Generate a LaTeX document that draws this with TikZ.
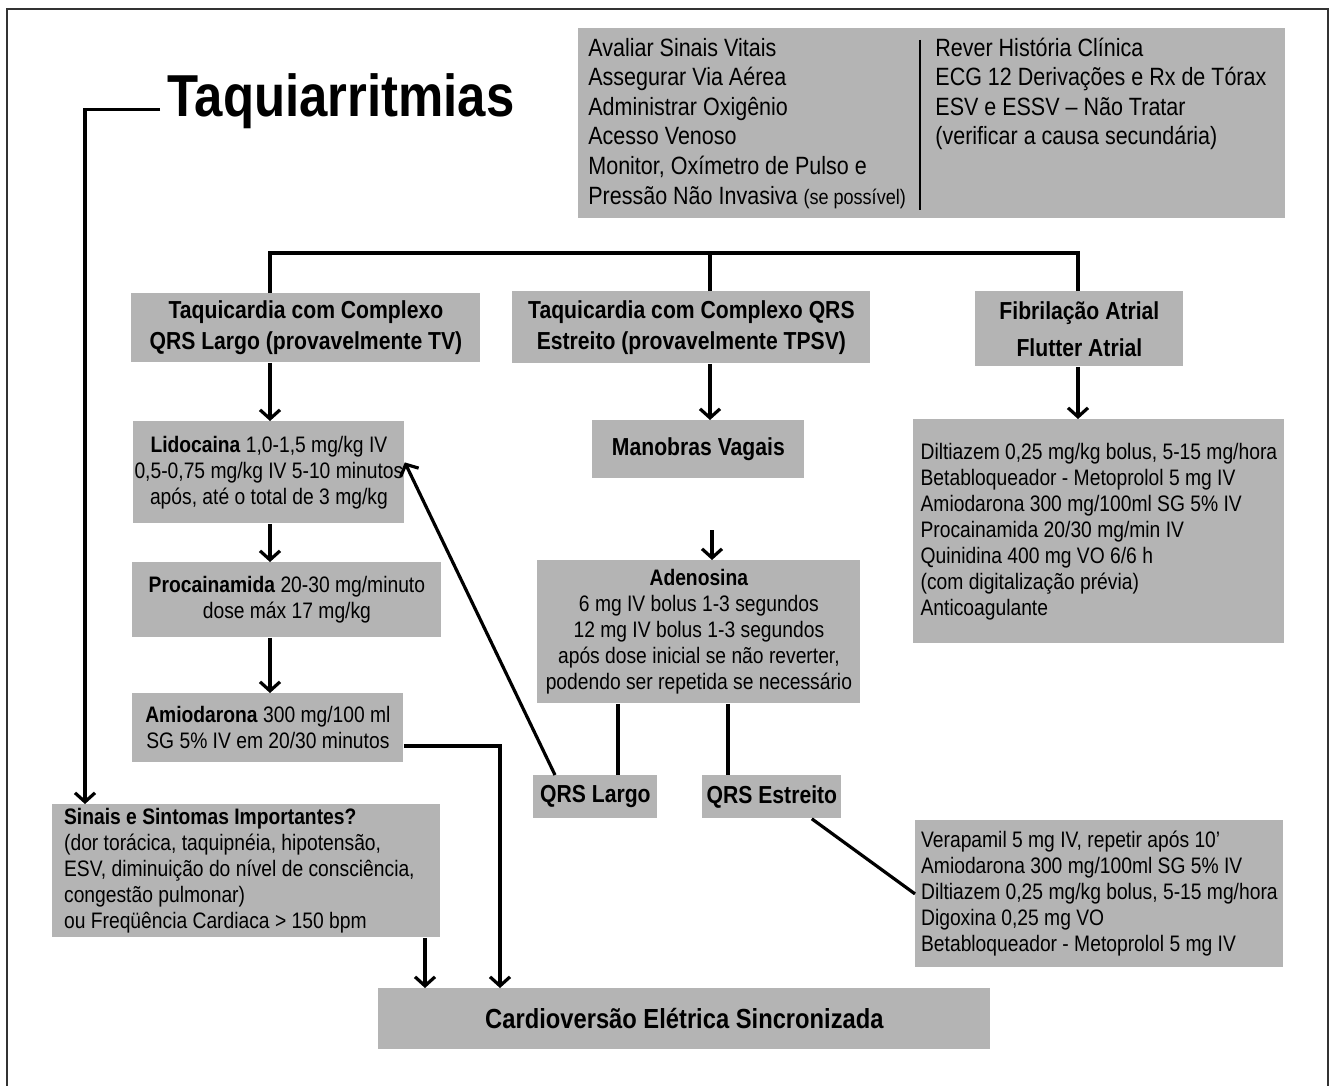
\documentclass[tikz,border=0pt]{standalone}
\usepackage{fontspec}
\setmainfont{Liberation Sans}[FakeStretch=0.86]
\usepackage{tikz}
\usetikzlibrary{arrows.meta,positioning,calc}
\definecolor{boxgrey}{RGB}{180,180,180}
\newcommand{\txtcorpo}{\fontsize{11.2}{13}\selectfont}
\newcommand{\txtinfo}{\fontsize{12.5}{14.8}\selectfont}
\newcommand{\txtcab}{\fontsize{12.3}{15.5}\selectfont\bfseries}

\begin{document}
\begin{tikzpicture}[x=0.5pt,y=-0.5pt,
    box/.style={fill=boxgrey,inner sep=0pt,anchor=north west,align=center},
    conn/.style={line width=1.6pt},
    arr/.style={conn,-{Straight Barb[length=4.5pt,width=10pt]}}]
  \useasboundingbox (0,0) rectangle (1334,1086);
  \draw[line width=1pt,black!80] (7,1090) -- (7,9) -- (1328,9) -- (1328,1090);
  % eixos
  \coordinate (axA) at (270,0);
  \coordinate (axB) at (710,0);
  \coordinate (axC) at (1078,0);
  \coordinate (axD) at (500,0);
  \coordinate (axE) at (425,0);
  \coordinate (axF) at (85,0);
  \coordinate (axL) at (618,0);
  \coordinate (axQ) at (728,0);
  \coordinate (adenoin) at (712,530);
  % titulo e avaliacao
  \node[anchor=base west,inner xsep=3.5pt,inner ysep=0pt,font=\fontsize{29.6}{34}\selectfont\bfseries] (titulo) at (160,117) {Taquiarritmias};
  \node[box,minimum width=353.5pt,minimum height=95pt] (info) at (578,28) {};
  \node[anchor=north west,inner sep=0pt,align=left,font=\txtinfo] (infoA) at (588,34) {\vphantom{Í}Avaliar Sinais Vitais\\Assegurar Via Aérea\\Administrar Oxigênio\\Acesso Venoso\\Monitor, Oxímetro de Pulso e\\Pressão Não Invasiva {\fontsize{10.5}{14.8}\selectfont(se possível)}};
  \node[anchor=north west,inner sep=0pt,align=left,font=\txtinfo] (infoB) at (935,34) {\vphantom{Í}Rever História Clínica\\ECG 12 Derivações e Rx de Tórax\\ESV e ESSV – Não Tratar\\(verificar a causa secundária)};
  \draw[line width=1pt] (920,40) -- (920,210);
  % cabecalhos
  \node[box,minimum width=174.5pt,minimum height=34.5pt,font=\txtcab] (hdrA) at (131,293) {Taquicardia com Complexo\\QRS Largo (provavelmente TV)};
  \node[box,minimum width=179pt,minimum height=36pt,font=\txtcab] (hdrB) at (512,291) {Taquicardia com Complexo QRS\\Estreito (provavelmente TPSV)};
  \node[box,minimum width=104pt,minimum height=37.5pt,font=\txtcab] (hdrC) at (975,291) {Fibrilação Atrial\\[3pt]Flutter Atrial};
  % QRS largo
  \node[box,minimum width=135.5pt,minimum height=51pt,font=\txtcorpo] (lido) at (133,421) {\textbf{Lidocaina} 1,0-1,5 mg/kg IV\\0,5-0,75 mg/kg IV 5-10 minutos\\após, até o total de 3 mg/kg};
  \node[box,minimum width=154.5pt,minimum height=37.5pt,font=\txtcorpo] (proc) at (132,562) {\textbf{Procainamida} 20-30 mg/minuto\\dose máx 17 mg/kg};
  \node[box,minimum width=135.5pt,minimum height=34.5pt,font=\txtcorpo] (amio) at (132,693) {\textbf{Amiodarona} 300 mg/100 ml\\SG 5\% IV em 20/30 minutos};
  % QRS estreito
  \node[box,minimum width=106pt,minimum height=29pt,font=\txtcab] (mano) at (592,420) {Manobras Vagais};
  \node[box,minimum width=161.5pt,minimum height=71.5pt,font=\txtcorpo] (adeno) at (537,560) {\textbf{Adenosina}\\6 mg IV bolus 1-3 segundos\\12 mg IV bolus 1-3 segundos\\após dose inicial se não reverter,\\podendo ser repetida se necessário};
  \node[box,minimum width=62pt,minimum height=21.5pt,font=\txtcab] (qrsL) at (533,775) {QRS Largo};
  \node[box,minimum width=69.5pt,minimum height=21.5pt,font=\txtcab] (qrsE) at (702,775) {QRS Estreito};
  \node[box,minimum width=184pt,minimum height=73.5pt,align=left,font=\txtcorpo] (verap) at (915,820) {Verapamil 5 mg IV, repetir após 10'\\Amiodarona 300 mg/100ml SG 5\% IV\\Diltiazem 0,25 mg/kg bolus, 5-15 mg/hora\\Digoxina 0,25 mg VO\\Betabloqueador - Metoprolol 5 mg IV};
  % fibrilacao
  \node[box,minimum width=185.5pt,minimum height=112pt,align=left,font=\txtcorpo] (af) at (913,419) {Diltiazem 0,25 mg/kg bolus, 5-15 mg/hora\\Betabloqueador - Metoprolol 5 mg IV\\Amiodarona 300 mg/100ml SG 5\% IV\\Procainamida 20/30 mg/min IV\\Quinidina 400 mg VO 6/6 h\\(com digitalização prévia)\\Anticoagulante};
  % instavel
  \node[box,minimum width=194pt,minimum height=66.5pt,align=left,font=\txtcorpo] (sinais) at (52,804) {\begin{tabular}{@{}l@{\hspace{7pt}}}\textbf{Sinais e Sintomas Importantes?}\\(dor torácica, taquipnéia, hipotensão,\\ESV, diminuição do nível de consciência,\\congestão pulmonar)\\ou Freqüência Cardiaca > 150 bpm\end{tabular}};
  \node[box,minimum width=306pt,minimum height=30.5pt,font=\fontsize{13.8}{16}\selectfont\bfseries] (cardio) at (378,988) {Cardioversão Elétrica Sincronizada};
  % ligacoes
  \draw[conn] (axA |- hdrA.north) -- ++(0,-40) -| (axC |- hdrC.north);
  \draw[conn] (axB |- hdrB.north) -- ++(0,-38);
  \draw[arr] (axA |- hdrA.south) -- (axA |- lido.north);
  \draw[arr] (axA |- lido.south) -- (axA |- proc.north);
  \draw[arr] (axA |- proc.south) -- (axA |- amio.north);
  \draw[arr] (axB |- hdrB.south) -- (axB |- mano.north);
  \draw[arr] (adenoin) -- (adenoin |- adeno.north);
  \draw[arr] (axC |- hdrC.south) -- (axC |- af.north);
  \draw[conn] (axL |- adeno.south) -- (axL |- qrsL.north);
  \draw[conn] (axQ |- adeno.south) -- (axQ |- qrsE.north);
  \draw[arr] ([xshift=11pt]qrsL.north west) -- ([yshift=5pt]lido.east);
  \draw[conn] ([xshift=-15pt]qrsE.south east) -- (verap.west);
  \draw[arr] ([yshift=-9pt]amio.east) -| (axD |- cardio.north);
  \draw[arr] (axE |- sinais.south) -- (axE |- cardio.north);
  \draw[arr] ([yshift=-4pt]titulo.west) -| (axF |- sinais.north);
\end{tikzpicture}
\end{document}
